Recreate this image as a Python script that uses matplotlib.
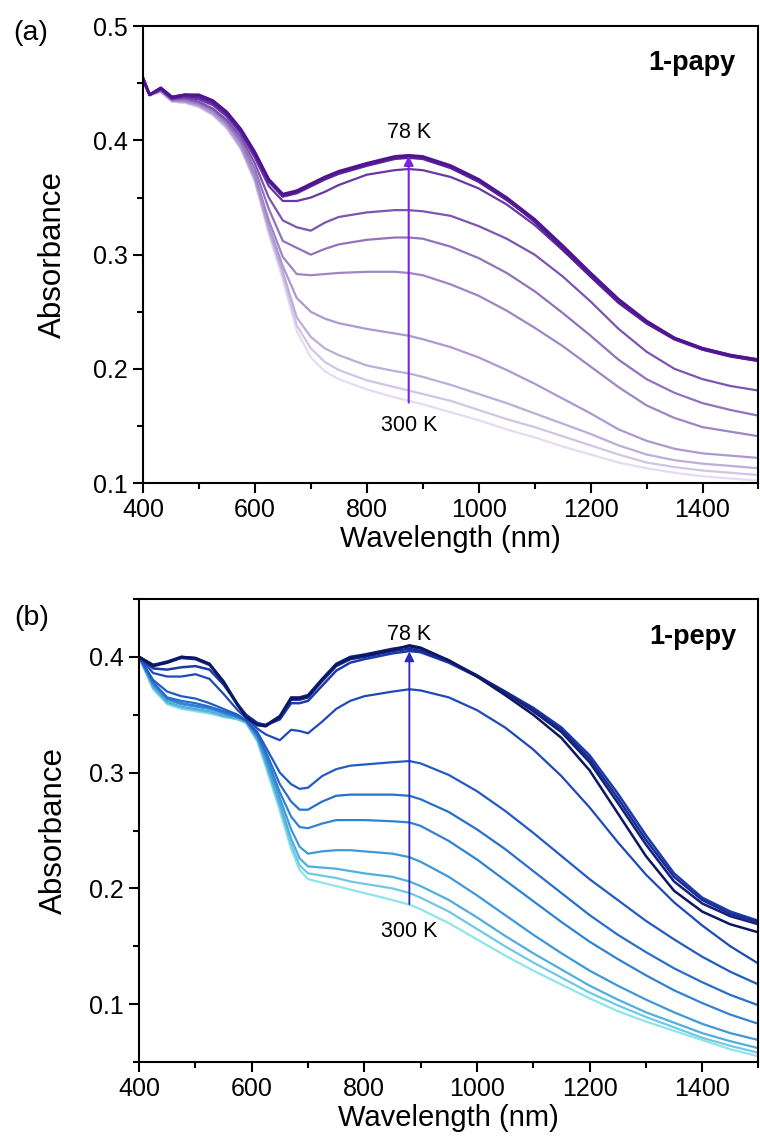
import matplotlib
matplotlib.use("Agg")
import matplotlib.pyplot as plt
import numpy as np
from matplotlib.colors import LinearSegmentedColormap
from matplotlib.ticker import MultipleLocator

plt.rcParams["font.family"] = ["Liberation Sans", "DejaVu Sans"]

# ---- (a) 1-papy : wavelength grid and spectra, 78 K (first) -> 300 K (last)
wl_a = [400, 412, 432, 452, 475, 500, 525, 550, 575, 600, 625, 650, 675, 700, 725, 750,
        800, 850, 875, 900, 950, 1000, 1050, 1100, 1150, 1200, 1250, 1300, 1350, 1400, 1450, 1500]

a1 = [.455, .440, .446, .438, .440, .440, .435, .425, .410, .390, .366, .353, .356, .362, .368, .373,
      .380, .386, .387, .386, .378, .366, .350, .331, .308, .284, .261, .242, .227, .218, .212, .208]
a2 = [.455, .440, .446, .438, .440, .439, .434, .424, .409, .389, .365, .352, .355, .361, .367, .372,
      .379, .385, .386, .385, .377, .365, .349, .329, .305, .281, .258, .240, .226, .217, .211, .207]
a3 = [.454, .440, .445, .437, .439, .438, .433, .423, .408, .388, .364, .351, .354, .360, .366, .371,
      .378, .384, .385, .384, .376, .364, .348, .330, .307, .283, .260, .241, .227, .218, .212, .208]
a4 = [.454, .440, .445, .437, .438, .436, .431, .421, .406, .385, .360, .347, .347, .350, .355, .361,
      .370, .374, .375, .374, .368, .358, .344, .326, .304, .281, .259, .240, .226, .217, .211, .207]
a5 = [.453, .440, .444, .436, .437, .434, .428, .418, .403, .380, .350, .330, .324, .321, .328, .333,
      .337, .339, .339, .338, .334, .325, .314, .300, .281, .259, .235, .215, .200, .191, .185, .181]
a6 = [.453, .440, .444, .436, .436, .433, .427, .416, .400, .375, .340, .312, .306, .300, .305, .309,
      .313, .315, .315, .314, .307, .297, .284, .268, .249, .229, .208, .191, .179, .170, .164, .159]
a7 = [.452, .440, .444, .435, .435, .432, .426, .415, .398, .370, .330, .298, .283, .282, .283, .284,
      .285, .285, .284, .282, .274, .264, .251, .236, .220, .202, .184, .168, .157, .149, .145, .141]
a8 = [.452, .440, .443, .435, .434, .431, .424, .413, .395, .367, .325, .290, .262, .250, .244, .240,
      .235, .231, .229, .226, .219, .210, .199, .187, .174, .161, .147, .137, .130, .126, .124, .122]
a9 = [.452, .440, .443, .435, .434, .430, .423, .412, .394, .366, .322, .285, .245, .228, .218, .212,
      .203, .198, .196, .193, .186, .178, .170, .161, .152, .143, .133, .125, .120, .117, .115, .113]
a10 = [.452, .440, .443, .434, .433, .430, .423, .411, .393, .365, .320, .282, .238, .218, .206, .199,
       .190, .184, .181, .178, .172, .164, .156, .149, .141, .133, .125, .118, .114, .111, .109, .107]
a11 = [.451, .439, .442, .434, .433, .429, .422, .410, .392, .364, .318, .278, .233, .210, .198, .191,
       .182, .175, .172, .169, .162, .155, .147, .140, .132, .125, .118, .113, .109, .106, .104, .102]
spectra_a = [a1, a2, a3, a4, a5, a6, a7, a8, a9, a10, a11]

# ---- (b) 1-pepy
wl_b = [400, 425, 450, 475, 500, 525, 550, 575, 590, 610, 625, 650, 670, 685, 700, 725, 750,
        775, 800, 850, 880, 900, 950, 1000, 1050, 1100, 1150, 1200, 1250, 1300, 1350, 1400, 1450, 1500]

b1 = [.400, .392, .395, .400, .399, .394, .378, .358, .348, .341, .340, .348, .364, .364, .366, .380, .393,
      .399, .401, .406, .410, .408, .397, .383, .367, .350, .330, .302, .265, .228, .198, .180, .169, .162]
b2 = [.400, .393, .396, .400, .399, .394, .379, .359, .349, .342, .341, .349, .365, .365, .367, .381, .394,
      .400, .402, .407, .409, .407, .397, .384, .369, .353, .335, .309, .274, .238, .206, .187, .176, .169]
b3 = [.400, .393, .395, .399, .398, .393, .378, .359, .349, .342, .341, .348, .363, .363, .365, .379, .392,
      .398, .400, .405, .407, .405, .396, .384, .370, .355, .337, .312, .278, .242, .210, .190, .178, .171]
b4 = [.400, .390, .389, .391, .392, .389, .376, .359, .350, .343, .341, .346, .360, .360, .362, .375, .388,
      .395, .398, .403, .405, .404, .395, .383, .370, .356, .339, .315, .282, .246, .213, .192, .180, .172]
b5 = [.400, .386, .383, .383, .385, .381, .368, .354, .347, .338, .333, .328, .337, .336, .334, .344, .355,
      .362, .366, .370, .372, .371, .365, .354, .339, .320, .297, .270, .240, .212, .188, .168, .150, .135]
b6 = [.400, .380, .370, .366, .364, .360, .355, .350, .345, .335, .322, .300, .290, .286, .287, .297, .303,
      .306, .307, .309, .310, .308, .298, .284, .267, .248, .228, .208, .190, .172, .156, .141, .128, .117]
b7 = [.400, .378, .365, .362, .360, .357, .353, .349, .345, .333, .318, .290, .275, .268, .268, .275, .280,
      .281, .281, .281, .280, .277, .266, .251, .234, .215, .196, .177, .160, .145, .131, .119, .108, .099]
b8 = [.400, .377, .364, .360, .358, .356, .352, .348, .345, .332, .315, .283, .262, .253, .252, .256, .259,
      .259, .259, .258, .257, .254, .241, .225, .207, .189, .171, .154, .139, .125, .112, .101, .091, .083]
b9 = [.400, .376, .363, .359, .357, .355, .351, .348, .345, .331, .312, .278, .251, .236, .230, .232, .233,
      .233, .232, .230, .227, .223, .210, .194, .177, .160, .144, .129, .116, .104, .093, .083, .075, .069]
b10 = [.400, .374, .361, .357, .355, .353, .349, .347, .344, .329, .309, .273, .243, .226, .219, .218, .217,
       .215, .213, .210, .206, .202, .190, .175, .159, .144, .130, .116, .104, .093, .084, .075, .068, .062]
b11 = [.400, .373, .360, .356, .354, .352, .349, .346, .343, .328, .307, .270, .238, .220, .213, .211, .209,
       .206, .204, .200, .196, .192, .180, .165, .150, .136, .123, .110, .099, .089, .080, .071, .064, .058]
b12 = [.399, .372, .359, .355, .353, .351, .348, .346, .343, .327, .305, .267, .234, .216, .208, .205, .202,
       .199, .196, .190, .186, .182, .170, .156, .142, .129, .117, .105, .094, .085, .077, .069, .061, .055]
spectra_b = [b1, b2, b3, b4, b5, b6, b7, b8, b9, b10, b11, b12]

cmap_a = LinearSegmentedColormap.from_list("pur", ["#4f1591", "#5e2a9e", "#9272be", "#b3a1d3", "#e4dcf1"])
cmap_b = LinearSegmentedColormap.from_list("blu", ["#0d1660", "#1a2f9c", "#1f4fc0", "#2c7bd0", "#4aa8dc", "#90e4ea"])


def style_axes(ax, ylim, label_x):
    ax.set_xlim(400, 1500)
    ax.set_ylim(*ylim)
    ax.xaxis.set_major_locator(MultipleLocator(200))
    ax.xaxis.set_minor_locator(MultipleLocator(100))
    ax.yaxis.set_major_locator(MultipleLocator(0.1))
    ax.yaxis.set_minor_locator(MultipleLocator(0.05))
    ax.tick_params(which="both", direction="out", width=1.5, labelsize=18, top=False, right=False)
    ax.tick_params(which="major", length=7, pad=4)
    ax.tick_params(which="minor", length=4)
    for s in ax.spines.values():
        s.set_linewidth(1.5)
    ax.set_xlabel("Wavelength (nm)", fontsize=21, labelpad=2)
    ax.set_ylabel("Absorbance", fontsize=22.5)
    ax.yaxis.set_label_coords(label_x, 0.5)


fig = plt.figure(figsize=(7.6, 11.42), dpi=100)

# panel (a)
ax1 = fig.add_axes([0.188, 0.577, 0.810, 0.400])
n = len(spectra_a)
for i in range(n - 1, -1, -1):
    ax1.plot(wl_a, spectra_a[i], color=cmap_a(i / (n - 1)), lw=1.6 if i > 2 else 2.0)
style_axes(ax1, (0.1, 0.5), -0.121)
ax1.annotate("", xy=(875, 0.389), xytext=(875, 0.168),
             arrowprops=dict(arrowstyle="-|>", color="#7a22e6", lw=1.5, mutation_scale=14))
ax1.text(875, 0.407, "78 K", ha="center", va="center", fontsize=15.5)
ax1.text(875, 0.150, "300 K", ha="center", va="center", fontsize=15.5)
ax1.text(0.963, 0.92, "1-papy", transform=ax1.transAxes, ha="right", va="center",
         fontsize=19.5, fontweight="bold")
fig.text(0.017, 0.971, "(a)", fontsize=20.5, ha="left", va="center")

# panel (b)
ax2 = fig.add_axes([0.183, 0.070, 0.815, 0.4055])
n = len(spectra_b)
for i in range(n - 1, -1, -1):
    ax2.plot(wl_b, spectra_b[i], color=cmap_b(i / (n - 1)), lw=1.6 if i > 3 else 1.8)
style_axes(ax2, (0.05, 0.45), -0.114)
ax2.annotate("", xy=(880, 0.407), xytext=(880, 0.184),
             arrowprops=dict(arrowstyle="-|>", color="#2a2ab8", lw=1.3, mutation_scale=14))
ax2.text(880, 0.419, "78 K", ha="center", va="center", fontsize=15.5)
ax2.text(880, 0.163, "300 K", ha="center", va="center", fontsize=15.5)
ax2.text(0.965, 0.918, "1-pepy", transform=ax2.transAxes, ha="right", va="center",
         fontsize=19.5, fontweight="bold")
fig.text(0.019, 0.459, "(b)", fontsize=20.5, ha="left", va="center")

fig.savefig("out.png", dpi=100)
plt.close(fig)
